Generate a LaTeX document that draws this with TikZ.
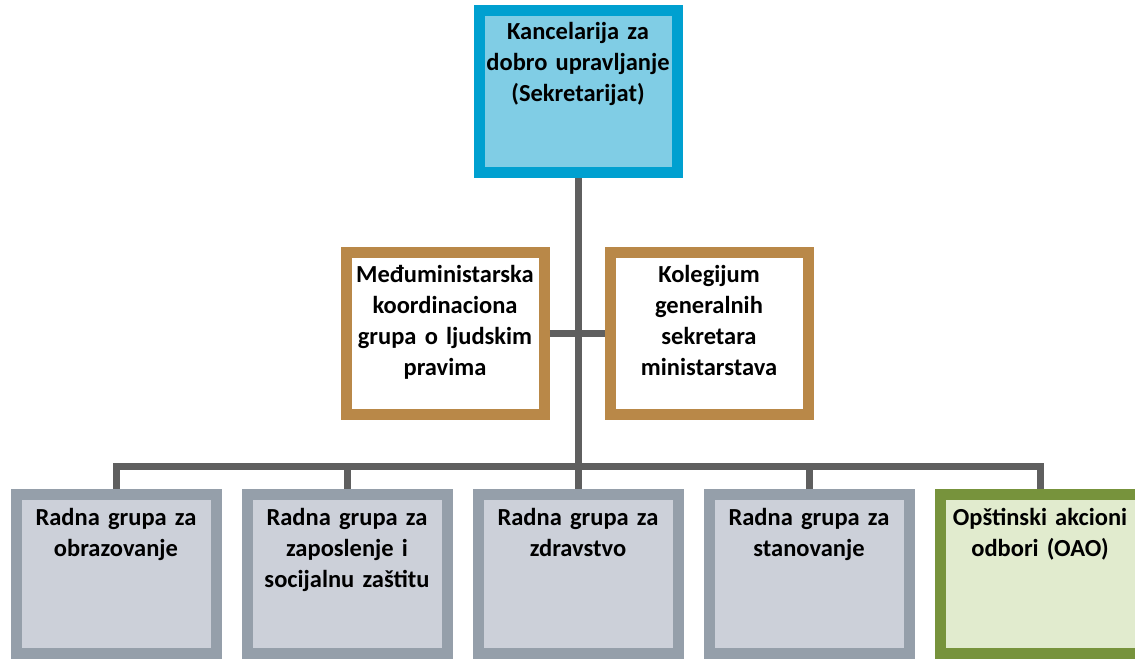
\documentclass[tikz,border=0pt]{standalone}
\usepackage{fontspec}
\setmainfont{Carlito}
\usetikzlibrary{shapes,arrows}
\definecolor{kancfill}{RGB}{128,205,229}
\definecolor{kancline}{RGB}{0,160,208}
\definecolor{tanline}{RGB}{185,136,72}
\definecolor{grayline}{RGB}{149,159,170}
\definecolor{grayfill}{RGB}{204,208,217}
\definecolor{greenline}{RGB}{119,147,60}
\definecolor{greenfill}{RGB}{225,235,206}
\definecolor{connline}{RGB}{95,95,95}
\tikzstyle{box} = [draw, line width=11pt, minimum width=198pt, text width=190pt, align=center, inner sep=0pt, text height=29pt, text depth=133pt, font=\fontsize{24.5}{31}\selectfont\bfseries]
\tikzstyle{midbox} = [box, draw=tanline, fill=white, text height=30pt, text depth=132pt]
\tikzstyle{lowbox} = [box, minimum width=200pt, text height=31pt, text depth=128pt, draw=grayline, fill=grayfill]
\tikzstyle{conn} = [draw=connline, line width=7pt]

\begin{document}
\begin{tikzpicture}[x=1pt,y=-1pt,node distance=231pt]
\useasboundingbox (0,0) rectangle (1135,659);

\node[box, draw=kancline, fill=kancfill] (kanc) at (578,91) {Kancelarija za\\dobro upravljanje\\(Sekretarijat)};
\node[midbox, below of = kanc, node distance=242.5pt, xshift=-133pt] (medju) {Međuministarska\\koordinaciona\\grupa o ljudskim\\pravima};
\node[midbox, below of = kanc, node distance=242.5pt, xshift=131pt] (kolegij) {Kolegijum\\generalnih\\sekretara\\ministarstava};
\node[lowbox, below of = kanc, node distance=483pt] (zdrav) {Radna grupa za\\zdravstvo};
\node[lowbox, left of = zdrav] (zapos) {Radna grupa za\\zaposlenje i\\socijalnu zaštitu};
\node[lowbox, left of = zapos] (obraz) {Radna grupa za\\obrazovanje};
\node[lowbox, right of = zdrav] (stan) {Radna grupa za\\stanovanje};
\node[lowbox, draw=greenline, fill=greenfill, right of = stan] (oao) {Opštinski akcioni\\odbori (OAO)};

\coordinate (bus) at (578,466);

\path[conn]
(kanc) edge [] node {} (zdrav)
(medju) edge [] node {} (kolegij);
\draw[conn] (obraz.north) |- (bus) -| (oao.north);
\draw[conn] (zapos.north) -- (zapos.north |- bus);
\draw[conn] (stan.north) -- (stan.north |- bus);
\end{tikzpicture}
\end{document}
